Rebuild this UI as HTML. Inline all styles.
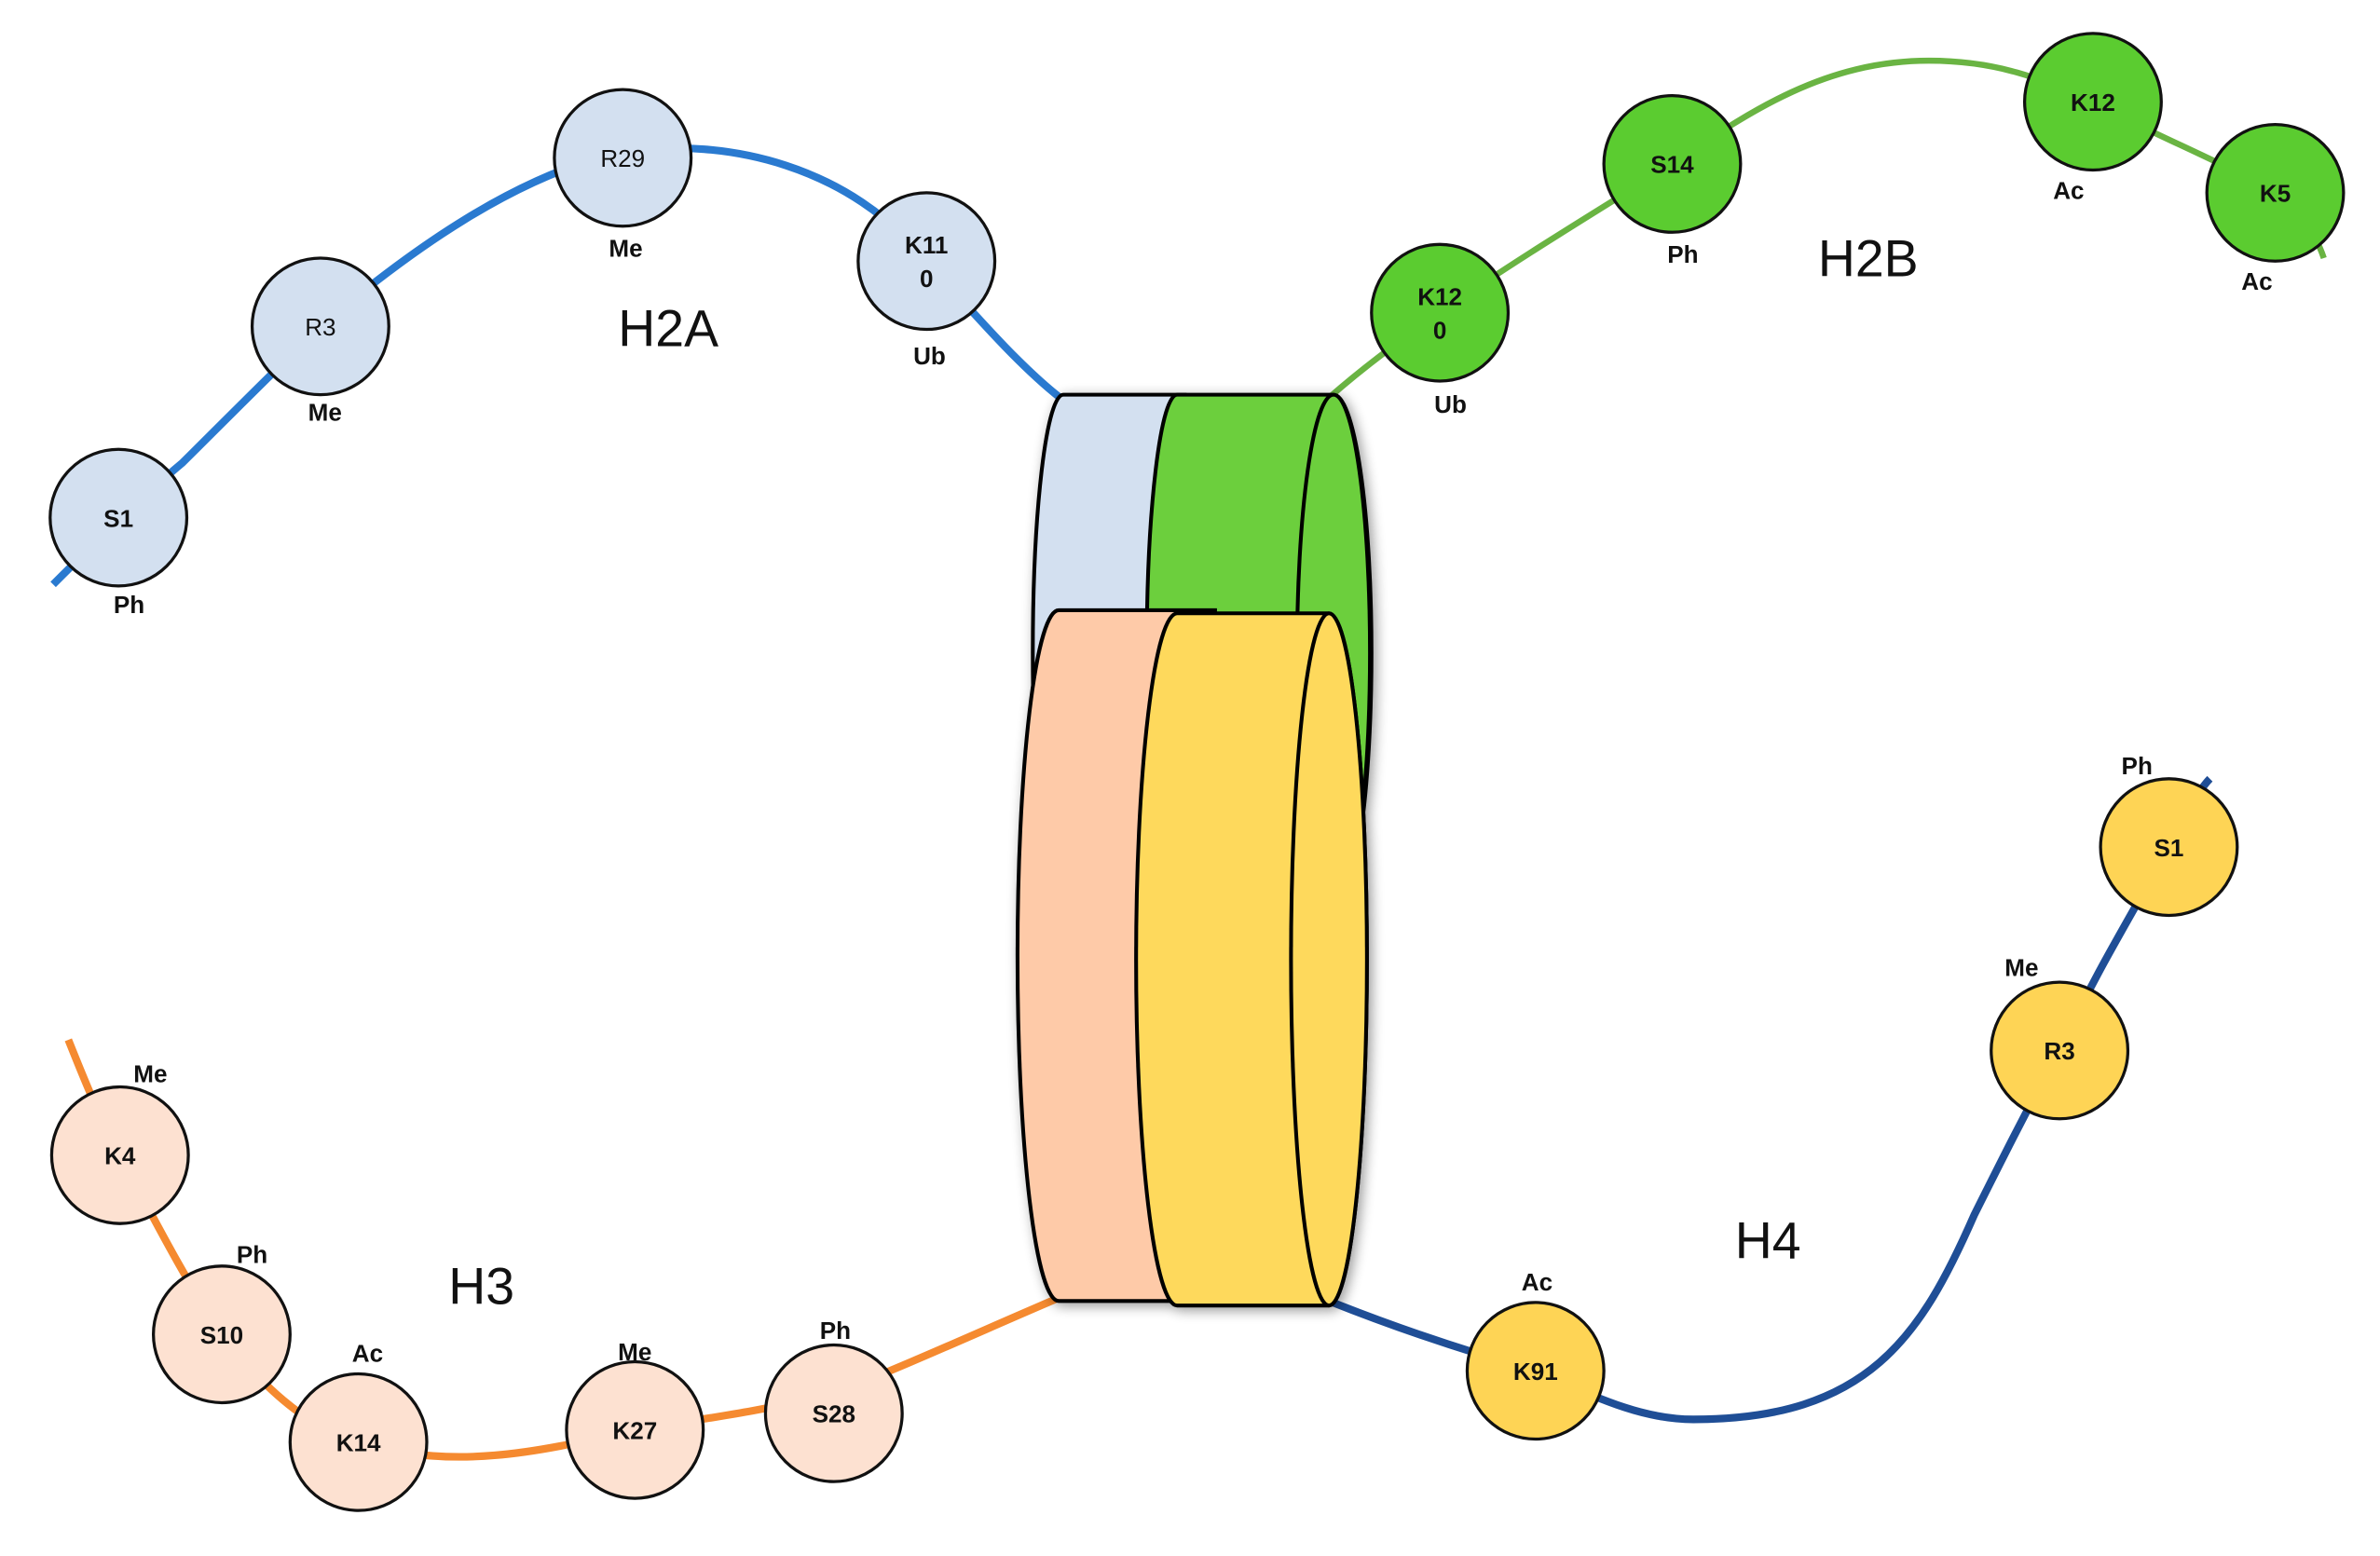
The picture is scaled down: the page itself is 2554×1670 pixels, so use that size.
<!DOCTYPE html>
<html><head><meta charset="utf-8"><style>
html,body{margin:0;padding:0;background:#fff;}
svg{display:block;}
text{font-family:"Liberation Sans",Arial,sans-serif;}
.n{font-size:16px;font-weight:bold;text-anchor:middle;fill:#111;}
.l{font-size:16px;font-weight:bold;text-anchor:middle;fill:#111;}
.t{font-size:34px;text-anchor:middle;fill:#111;}
</style></head><body>
<svg width="2554" height="1670" viewBox="0 0 1567 1025" preserveAspectRatio="none" xmlns="http://www.w3.org/2000/svg">
<defs>
<filter id="sh" x="-20%" y="-20%" width="140%" height="140%"><feGaussianBlur in="SourceAlpha" stdDeviation="4"/><feOffset dx="2" dy="2"/><feComponentTransfer><feFuncA type="linear" slope="0.4"/></feComponentTransfer><feMerge><feMergeNode/><feMergeNode in="SourceGraphic"/></feMerge></filter>
</defs>
<path d="M35,385 C60,360 90,330 120,305 C150,275 180,245 211,215 C270,165 340,115 410,100 C480,90 560,110 610,172 C640,205 670,240 698,262" fill="none" stroke="#2a7ad0" stroke-width="5"/>
<path d="M875,262 C900,240 925,222 948,206 C1000,170 1050,140 1101,108 C1150,75 1200,40 1270,40 C1320,40 1350,55 1378,67 C1420,90 1460,105 1498,127 C1515,140 1525,155 1530,170" fill="none" stroke="#6ab443" stroke-width="4"/>
<path d="M45,685 C55,710 65,735 79,761 C100,800 120,840 146,879 C170,910 200,940 236,950 C300,970 360,955 418,942 C460,935 500,930 549,918 C600,898 650,875 697,855" fill="none" stroke="#f58a30" stroke-width="5"/>
<path d="M875,857 C920,875 965,890 1011,903 C1050,920 1080,935 1115,935 C1230,935 1265,880 1300,800 C1320,760 1335,730 1356,692 C1380,640 1405,600 1428,558 C1440,535 1448,520 1455,513" fill="none" stroke="#1f4e96" stroke-width="5"/>
<g filter="url(#sh)" stroke="#000" stroke-width="2.5">
<path d="M700,260 L780,260 L780,600 L700,600 A20,170 0 0 1 700,260 Z" fill="#d3e0f0"/>
<path d="M775,260 L878,260 A25,170 0 0 1 878,600 L775,600 A20,170 0 0 1 775,260 Z" fill="#6ccf3e"/>
<ellipse cx="878" cy="430" rx="24" ry="170" fill="#6ccf3e"/>
<path d="M697,402 L800,402 L800,857 L697,857 A27,227 0 0 1 697,402 Z" fill="#fecaa8"/>
<path d="M775,404 L875,404 A25,228 0 0 1 875,860 L775,860 A27,228 0 0 1 775,404 Z" fill="#fed95c"/>
<ellipse cx="875" cy="632" rx="25" ry="228" fill="#fed95c"/>
</g>
<g stroke="#111" stroke-width="2">
<circle cx="78" cy="341" r="45" fill="#d3e0f0"/>
<circle cx="211" cy="215" r="45" fill="#d3e0f0"/>
<circle cx="410" cy="104" r="45" fill="#d3e0f0"/>
<circle cx="610" cy="172" r="45" fill="#d3e0f0"/>
<circle cx="948" cy="206" r="45" fill="#5bcc30"/>
<circle cx="1101" cy="108" r="45" fill="#5bcc30"/>
<circle cx="1378" cy="67" r="45" fill="#5bcc30"/>
<circle cx="1498" cy="127" r="45" fill="#5bcc30"/>
<circle cx="79" cy="761" r="45" fill="#fde1d1"/>
<circle cx="146" cy="879" r="45" fill="#fde1d1"/>
<circle cx="236" cy="950" r="45" fill="#fde1d1"/>
<circle cx="418" cy="942" r="45" fill="#fde1d1"/>
<circle cx="549" cy="931" r="45" fill="#fde1d1"/>
<circle cx="1011" cy="903" r="45" fill="#fed455"/>
<circle cx="1356" cy="692" r="45" fill="#fed455"/>
<circle cx="1428" cy="558" r="45" fill="#fed455"/>
</g>
<text x="78" y="347" class="n">S1</text>
<text x="211" y="221" class="n" style="font-weight:normal">R3</text>
<text x="410" y="110" class="n" style="font-weight:normal">R29</text>
<text x="610" y="167" class="n">K11</text><text x="610" y="189" class="n">0</text>
<text x="948" y="201" class="n">K12</text><text x="948" y="223" class="n">0</text>
<text x="1101" y="114" class="n">S14</text>
<text x="1378" y="73" class="n">K12</text>
<text x="1498" y="133" class="n">K5</text>
<text x="79" y="767" class="n">K4</text>
<text x="146" y="885" class="n">S10</text>
<text x="236" y="956" class="n">K14</text>
<text x="418" y="948" class="n">K27</text>
<text x="549" y="937" class="n">S28</text>
<text x="1011" y="909" class="n">K91</text>
<text x="1356" y="698" class="n">R3</text>
<text x="1428" y="564" class="n">S1</text>
<text x="85" y="404" class="l">Ph</text>
<text x="214" y="277" class="l">Me</text>
<text x="412" y="169" class="l">Me</text>
<text x="612" y="240" class="l">Ub</text>
<text x="955" y="272" class="l">Ub</text>
<text x="1108" y="173" class="l">Ph</text>
<text x="1362" y="131" class="l">Ac</text>
<text x="1486" y="191" class="l">Ac</text>
<text x="99" y="713" class="l">Me</text>
<text x="166" y="832" class="l">Ph</text>
<text x="242" y="897" class="l">Ac</text>
<text x="418" y="896" class="l">Me</text>
<text x="550" y="882" class="l">Ph</text>
<text x="1012" y="850" class="l">Ac</text>
<text x="1331" y="643" class="l">Me</text>
<text x="1407" y="510" class="l">Ph</text>
<text x="440" y="228" class="t">H2A</text>
<text x="1230" y="182" class="t">H2B</text>
<text x="317" y="859" class="t">H3</text>
<text x="1164" y="829" class="t">H4</text>
</svg>
</body></html>
